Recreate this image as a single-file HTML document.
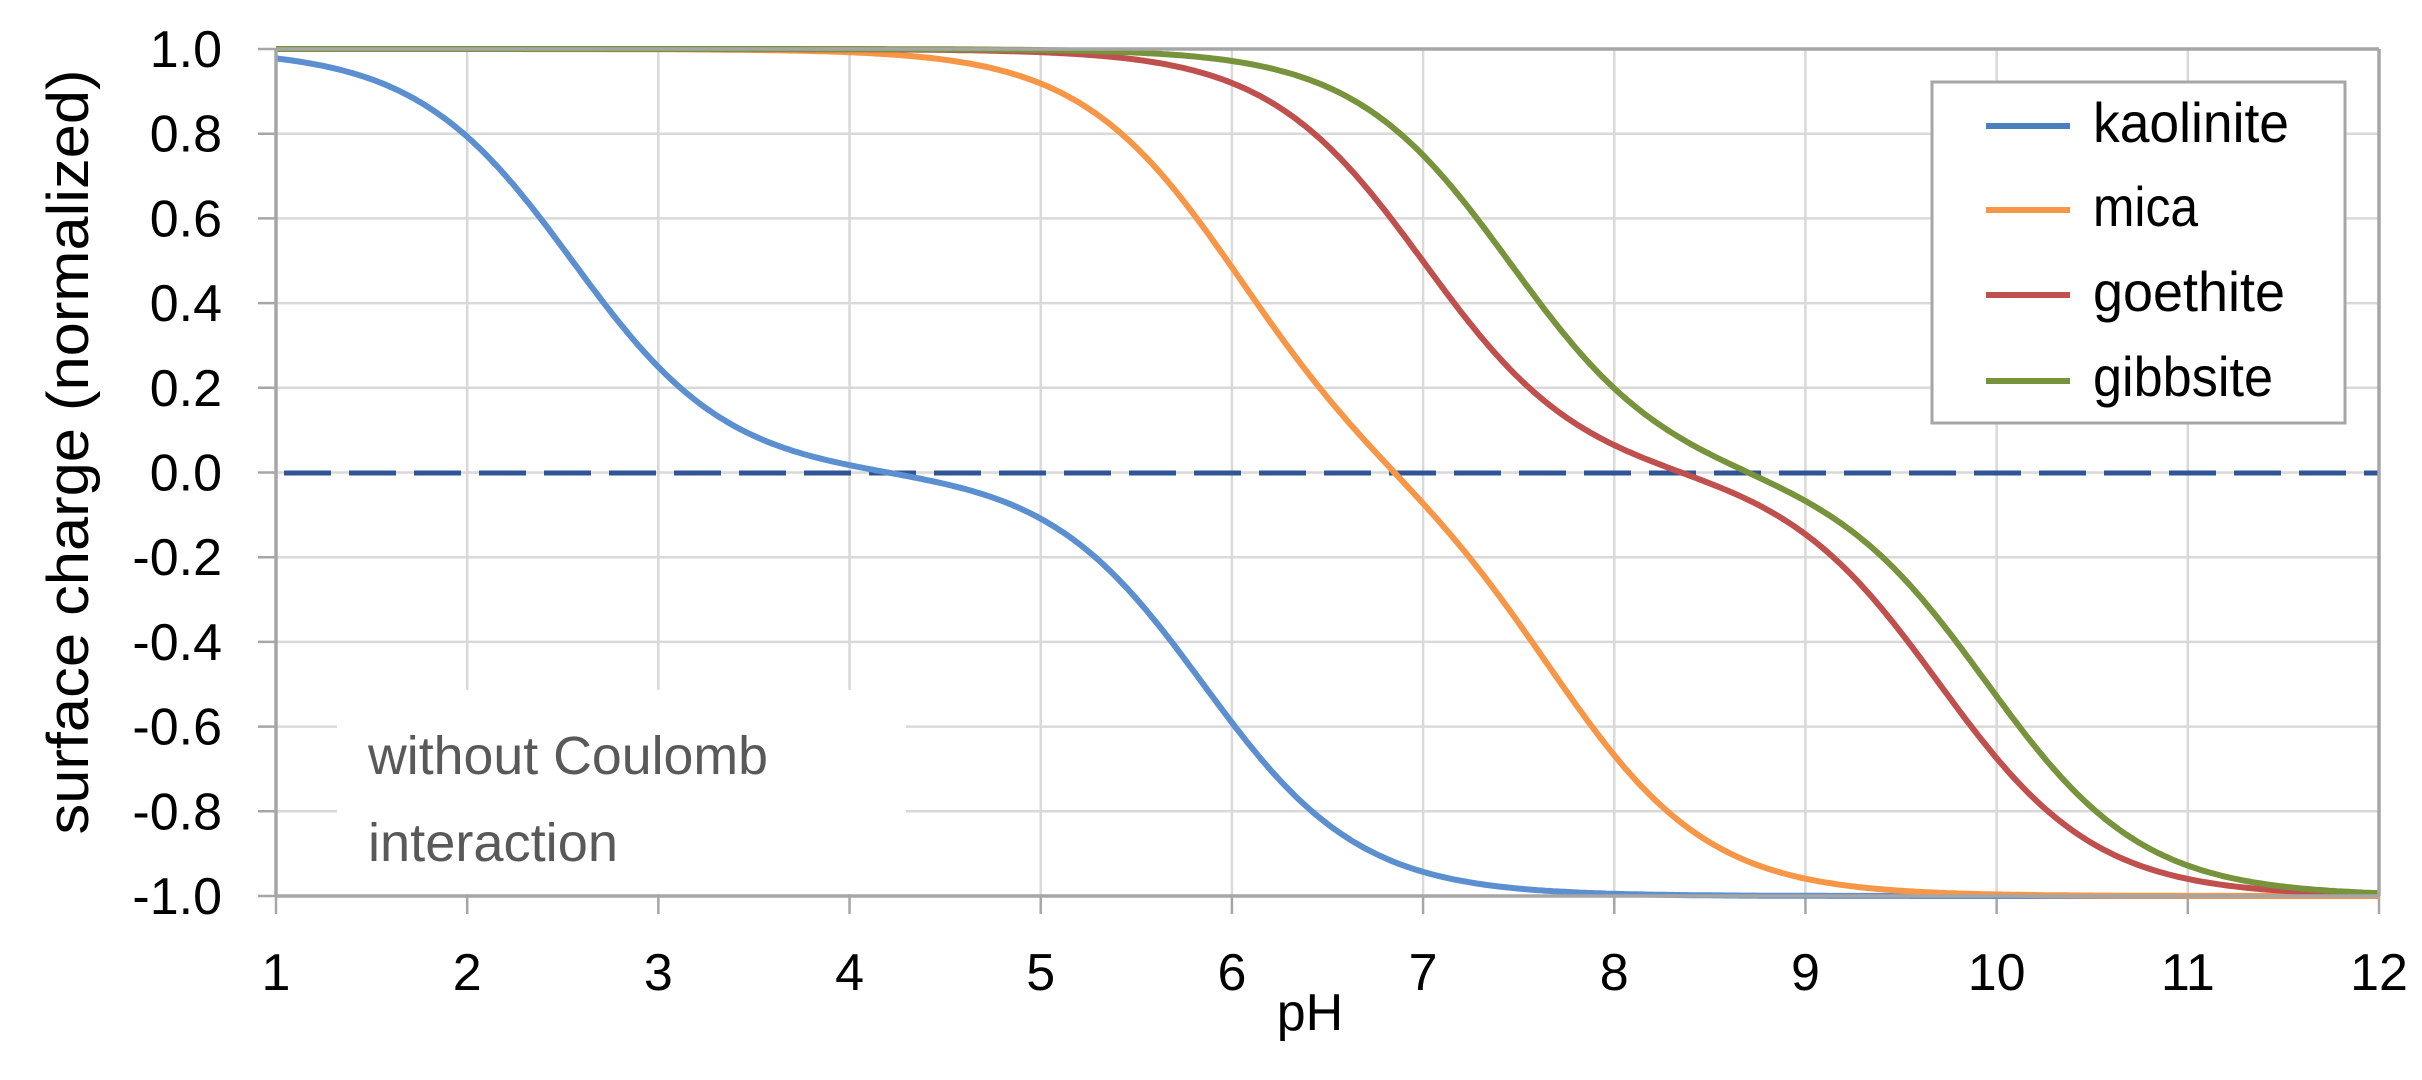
<!DOCTYPE html>
<html><head><meta charset="utf-8"><style>
html,body{margin:0;padding:0;background:#fff;}
svg{display:block;}
text{font-family:"Liberation Sans",sans-serif;}
</style></head><body>
<svg id="s" width="2422" height="1080" viewBox="0 0 2422 1080" xmlns="http://www.w3.org/2000/svg">
<g id="grid" stroke="#d9d9d9" stroke-width="2.5"></g>
<g id="ticks" stroke="#a6a6a6" stroke-width="2.5"></g>
<rect x="337" y="690" width="569" height="204" fill="#fff"/>
<text x="368" y="774" font-size="54" fill="#595959" textLength="400" lengthAdjust="spacingAndGlyphs">without Coulomb</text>
<text x="368" y="861" font-size="54" fill="#595959" textLength="250" lengthAdjust="spacingAndGlyphs">interaction</text>
<line x1="284" y1="473" x2="2379" y2="473" stroke="#2f5597" stroke-width="5" stroke-dasharray="47 18"/>
<g id="curves" fill="none" stroke-width="6" stroke-linejoin="round"></g>
<line x1="276" y1="49" x2="276" y2="896" stroke="#a6a6a6" stroke-width="3.5"/>
<line x1="276" y1="896" x2="2379" y2="896" stroke="#a6a6a6" stroke-width="3.5"/>
<line x1="2379" y1="49" x2="2379" y2="896" stroke="#a6a6a6" stroke-width="3.5"/>
<line x1="276" y1="49" x2="2379" y2="49" stroke="#a6a6a6" stroke-width="3.5"/>
<g id="labels" font-size="52" fill="#000"></g>
<text x="1310" y="1030" font-size="52" text-anchor="middle">pH</text>
<text transform="translate(88,452) rotate(-90)" font-size="58" text-anchor="middle" textLength="765" lengthAdjust="spacingAndGlyphs">surface charge (normalized)</text>
<rect x="1932" y="82" width="413" height="341" fill="#fff" stroke="#a6a6a6" stroke-width="3"/>
<line x1="1986" y1="126" x2="2070" y2="126" stroke="#4a7ebf" stroke-width="6"/>
<line x1="1986" y1="210" x2="2070" y2="210" stroke="#f79646" stroke-width="6"/>
<line x1="1986" y1="295" x2="2070" y2="295" stroke="#c0504d" stroke-width="6"/>
<line x1="1986" y1="381" x2="2070" y2="381" stroke="#77933c" stroke-width="6"/>
<text x="2093" y="142" font-size="56" textLength="196" lengthAdjust="spacingAndGlyphs">kaolinite</text>
<text x="2093" y="226" font-size="56" textLength="105" lengthAdjust="spacingAndGlyphs">mica</text>
<text x="2093" y="311" font-size="56" textLength="192" lengthAdjust="spacingAndGlyphs">goethite</text>
<text x="2093" y="396" font-size="56" textLength="180" lengthAdjust="spacingAndGlyphs">gibbsite</text>
</svg>
<script>
var NS="http://www.w3.org/2000/svg";
var L=276,R=2379,T=49,B=896;
function X(v){return L+(v-1)*(R-L)/11;}
function Y(v){return T+(1-v)*(B-T)/2;}
function el(p,n,a,t){var e=document.createElementNS(NS,n);for(var k in a)e.setAttribute(k,a[k]);if(t!==undefined)e.textContent=t;document.getElementById(p).appendChild(e);}
for(var i=2;i<=11;i++){el("grid","line",{x1:X(i),y1:T,x2:X(i),y2:B});}
for(var j=1;j<10;j++){var v=1-j*0.2;el("grid","line",{x1:L,y1:Y(v),x2:R,y2:Y(v)});}
for(var i=1;i<=12;i++){el("ticks","line",{x1:X(i),y1:B,x2:X(i),y2:B+18});el("labels","text",{x:X(i),y:990,"text-anchor":"middle"},String(i));}
for(var j=0;j<=10;j++){var v=1-j*0.2;el("ticks","line",{x1:L-18,y1:Y(v),x2:L,y2:Y(v)});
 var s=Math.abs(v)<1e-9?"0.0":v.toFixed(1);el("labels","text",{x:222,y:Y(v)+18,"text-anchor":"end"},s);}
function th(x){return Math.tanh(x);}
var series=[["#5b8fd0",2.55,5.85,1.22],["#f79646",6.0,7.7,1.22],["#c0504d",7.0,9.7,1.22],["#77933c",7.45,9.95,1.22]];
series.forEach(function(s){var pts=[];for(var x=1;x<=12.0001;x+=0.02){var y=-0.5*th(s[3]*(x-s[1]))-0.5*th(s[3]*(x-s[2]));pts.push(X(x).toFixed(1)+","+Y(y).toFixed(1));}
 el("curves","polyline",{points:pts.join(" "),stroke:s[0]});});
</script>
</body></html>
